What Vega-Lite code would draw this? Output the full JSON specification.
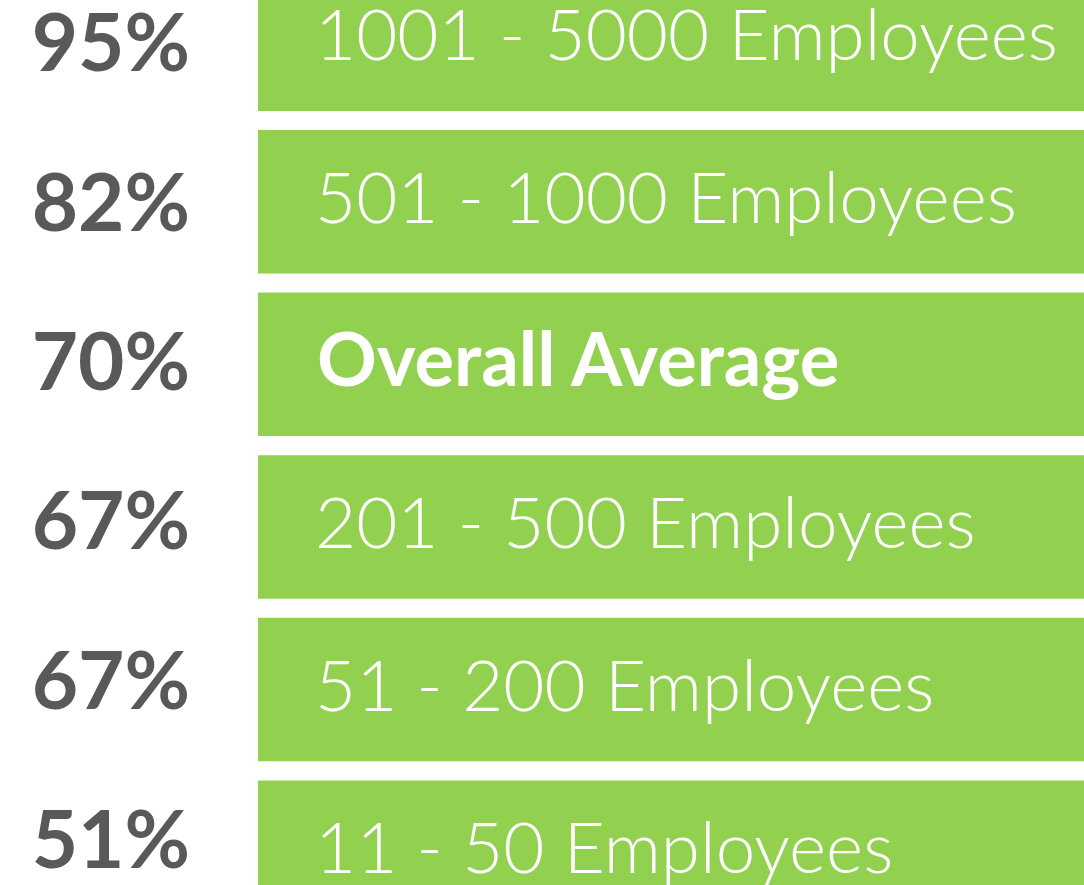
{
  "$schema": "https://vega.github.io/schema/vega-lite/v6.json",
  "padding": {"top": -32.6, "left": 0, "right": 0, "bottom": 0},
  "background": "white",
  "spacing": 68,
  "config": {"view": {"stroke": null}},
  "data": {"values": [
    {"group": "1001 - 5000 Employees", "pct": "95%", "kind": "size"},
    {"group": "501 - 1000 Employees", "pct": "82%", "kind": "size"},
    {"group": "Overall Average", "pct": "70%", "kind": "average"},
    {"group": "201 - 500 Employees", "pct": "67%", "kind": "size"},
    {"group": "51 - 200 Employees", "pct": "67%", "kind": "size"},
    {"group": "11 - 50 Employees", "pct": "51%", "kind": "size"}
  ]},
  "hconcat": [
    {
      "width": 190,
      "height": 956.5,
      "mark": {"type": "text", "align": "right", "baseline": "middle", "font": "Lato", "fontWeight": "bold", "fontSize": 80, "color": "#595959"},
      "encoding": {
        "y": {"field": "group", "type": "nominal", "sort": null, "axis": null,
              "scale": {"paddingInner": 0.1175, "paddingOuter": 0, "round": false}},
        "x": {"value": "width"},
        "text": {"field": "pct"}
      }
    },
    {
      "width": 826,
      "height": 956.5,
      "encoding": {
        "y": {"field": "group", "type": "nominal", "sort": null, "axis": null,
              "scale": {"paddingInner": 0.1175, "paddingOuter": 0, "round": false}}
      },
      "layer": [
        {"mark": {"type": "rect", "color": "#92D050"}},
        {
          "transform": [{"filter": "datum.kind === 'size'"}],
          "mark": {"type": "text", "align": "left", "baseline": "middle", "font": "Lato", "fontWeight": 300, "fontSize": 71, "color": "white", "dx": 57},
          "encoding": {"x": {"value": 0}, "text": {"field": "group"}}
        },
        {
          "transform": [{"filter": "datum.kind === 'average'"}],
          "mark": {"type": "text", "align": "left", "baseline": "middle", "font": "Lato", "fontWeight": "bold", "fontSize": 74, "color": "white", "dx": 59},
          "encoding": {"x": {"value": 0}, "text": {"field": "group"}}
        }
      ]
    }
  ]
}
